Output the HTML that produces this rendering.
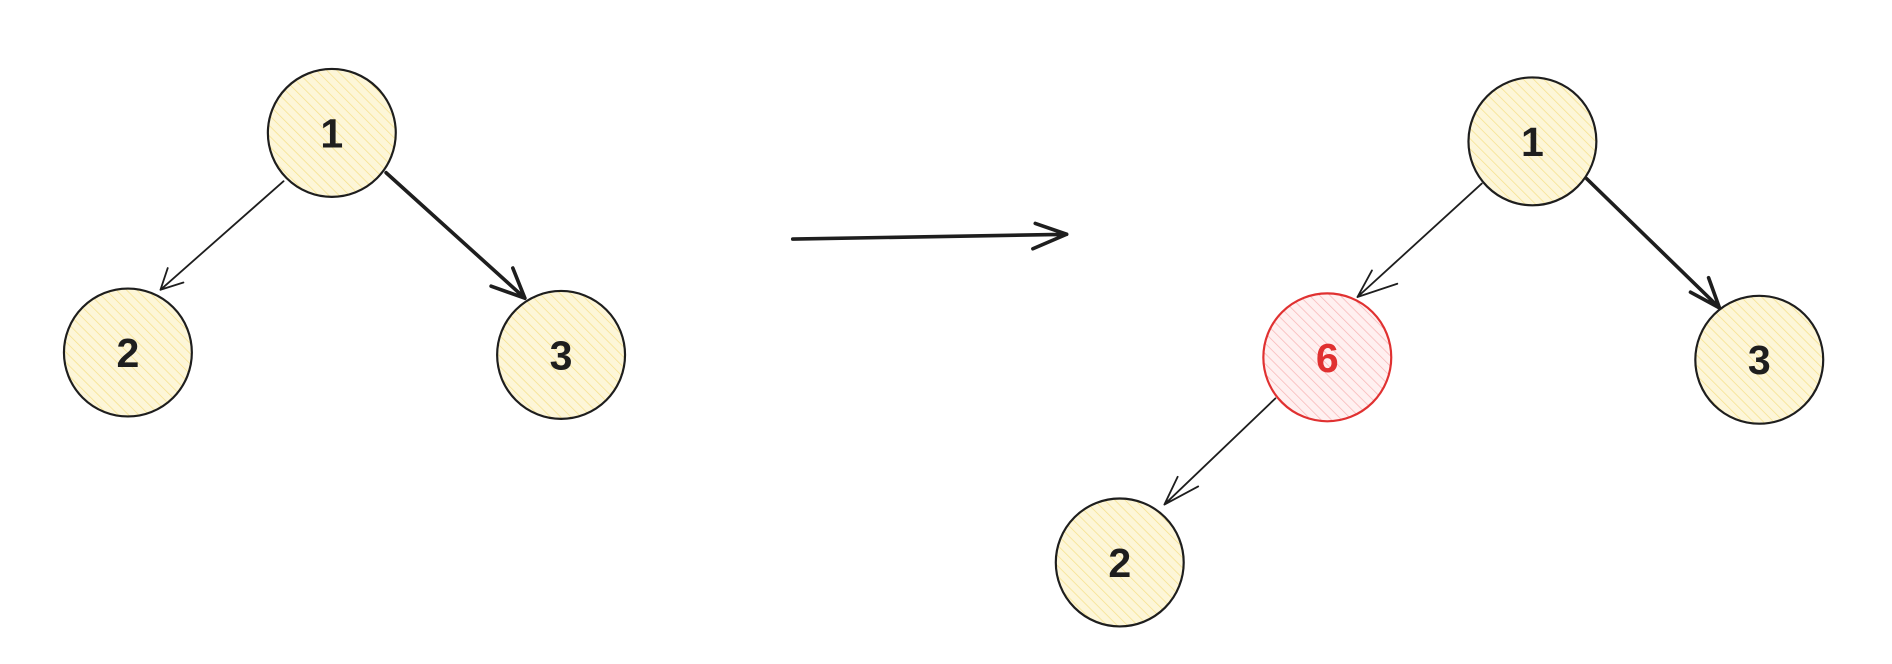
<!DOCTYPE html>
<html><head><style>html,body{margin:0;padding:0;background:#fff;}svg{display:block}</style></head>
<body>
<svg width="1892" height="664" viewBox="0 0 1568 550" xmlns="http://www.w3.org/2000/svg">
<defs>
<pattern id="hy" width="6" height="6" patternUnits="userSpaceOnUse" patternTransform="rotate(-45)">
<rect width="6" height="6" fill="#fdf6d8"/><line x1="0" y1="0" x2="0" y2="6" stroke="#f5e08a" stroke-width="1.2"/></pattern>
<pattern id="hr" width="6" height="6" patternUnits="userSpaceOnUse" patternTransform="rotate(-45)">
<rect width="6" height="6" fill="#fff0f0"/><line x1="0" y1="0" x2="0" y2="6" stroke="#f7b5b5" stroke-width="1.2"/></pattern>
</defs>
<g stroke="#1e1e1e" stroke-width="1.8" fill="url(#hy)">
<circle cx="275" cy="110" r="53"/>
<circle cx="106" cy="292" r="53"/>
<circle cx="465" cy="294" r="53"/>
<circle cx="1270" cy="117" r="53"/>
<circle cx="1458" cy="298" r="53"/>
<circle cx="928" cy="466" r="53"/>
</g>
<circle cx="1100" cy="296" r="53" stroke="#e03131" stroke-width="1.8" fill="url(#hr)"/>
<g stroke="#1e1e1e" fill="none" stroke-linecap="round">
<path d="M235 150 L133 240 M133 240 L139 222 M133 240 L152 234" stroke-width="1.5"/>
<path d="M320 143 L435 247 M435 247 L407 237 M435 247 L425 222" stroke-width="3"/>
<path d="M657 198 L884 194 M884 194 L858 185 M884 194 L856 206" stroke-width="3"/>
<path d="M1228 152 L1125 246 M1125 246 L1137 224 M1125 246 L1158 235" stroke-width="1.5"/>
<path d="M1315 148 L1425 255 M1425 255 L1401 242 M1425 255 L1416 230" stroke-width="3"/>
<path d="M1057 330 L965 418 M965 418 L976 395 M965 418 L993 403" stroke-width="1.5"/>
</g>
<g font-family="Liberation Sans, sans-serif" font-size="34" font-weight="bold" text-anchor="middle" fill="#1e1e1e">
<text x="275" y="122">1</text>
<text x="106" y="304">2</text>
<text x="465" y="306">3</text>
<text x="1270" y="129">1</text>
<text x="1458" y="310">3</text>
<text x="928" y="478">2</text>
<text x="1100" y="308" fill="#e03131">6</text>
</g>
</svg>
</body></html>
